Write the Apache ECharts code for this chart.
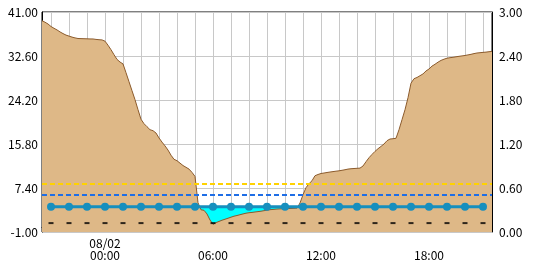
<!DOCTYPE html>
<html><head><meta charset="utf-8">
<script src="https://cdn.jsdelivr.net/npm/echarts@6/dist/echarts.min.js"></script>
<style>html,body{margin:0;padding:0;background:#fff}#c{width:550px;height:265px}</style>
</head><body><div id="c"></div>
<script>
// 10-minute categories from 08/01 20:30 to 08/02 21:30
const categories = [];
for (let m = 20 * 60 + 30; m <= 24 * 60 + 21 * 60 + 30; m += 10) {
  const day = m >= 24 * 60 ? '08/02' : '08/01';
  const mm = m % (24 * 60);
  const h = String(Math.floor(mm / 60)).padStart(2, '0');
  const mi = String(mm % 60).padStart(2, '0');
  categories.push(day + ' ' + h + ':' + mi);
}

// water level (left axis)
const levelValues = [
  39.34, 39.05, 38.71, 38.23, 37.89, 37.58, 37.20, 36.88, 36.59, 36.40,
  36.21, 36.06, 35.94, 35.92, 35.90, 35.88, 35.86, 35.85, 35.77, 35.71,
  35.67, 35.43, 34.66, 33.80, 32.85, 31.95, 31.45, 31.09, 29.41, 27.69,
  25.97, 24.26, 22.35, 20.52, 19.68, 19.10, 18.53, 18.34, 17.90, 16.95,
  16.16, 15.44, 14.64, 13.66, 12.88, 12.61, 12.15, 11.69, 11.35, 11.01,
  10.38, 9.61, 4.59, 3.24, 3.14, 2.44, 1.29, 0.47, 0.79, 1.02,
  1.25, 1.44, 1.63, 1.83, 2.02, 2.15, 2.30, 2.45, 2.59, 2.68,
  2.74, 2.82, 2.89, 2.97, 3.07, 3.16, 3.26, 3.31, 3.37, 3.41,
  3.43, 3.45, 3.47, 3.50, 3.52, 3.56, 4.54, 6.12, 7.46, 8.22,
  8.79, 9.75, 9.98, 10.17, 10.26, 10.36, 10.45, 10.53, 10.61, 10.68,
  10.78, 10.89, 11.01, 11.08, 11.12, 11.16, 11.20, 11.60, 12.42, 13.18,
  13.81, 14.39, 14.90, 15.34, 15.80, 16.43, 16.75, 16.81, 16.89, 18.53,
  20.44, 22.35, 24.64, 27.41, 28.27, 28.50, 28.84, 29.18, 29.74, 30.12,
  30.67, 31.02, 31.42, 31.76, 31.99, 32.18, 32.28, 32.35, 32.45, 32.54,
  32.62, 32.70, 32.81, 32.92, 33.06, 33.17, 33.23, 33.29, 33.34, 33.42,
  33.48
];

// hourly reference values (left axis)
const hourlyCats = categories.filter(c => c.endsWith(':00'));
const dotValues = [3.8,3.8,3.8,3.8,3.8,3.8,3.8,3.8,3.8,3.8,3.8,3.8,3.8,3.8,3.8,3.8,3.8,3.8,3.8,3.8,3.8,3.8,3.8,3.8,3.8];
const dashValues = [0.7,0.7,0.7,0.7,0.7,0.7,0.7,0.7,0.7,0.7,0.7,0.7,0.7,0.7,0.7,0.7,0.7,0.7,0.7,0.7,0.7,0.7,0.7,0.7,0.7];
const cyanLevel = categories.map(() => dotValues[0]);
const yellowLevel = 8.2;
const blueLevel = 6.2;

const leftTicks = { min: -1, max: 41, interval: 8.4 };
const rightTicks = { min: 0, max: 3, interval: 0.6 };
const labelHours = ['00:00', '06:00', '12:00', '18:00'];

const font = '"Noto Sans CJK JP", sans-serif';
const chart = echarts.init(document.getElementById('c'), null, { renderer: 'canvas' });
chart.setOption({
  animation: false,
  grid: { left: 42, right: 58, top: 12, bottom: 33, show: true, borderColor: '#000', borderWidth: 1, backgroundColor: 'transparent' },
  xAxis: {
    type: 'category', data: categories, boundaryGap: false,
    axisLine: { lineStyle: { color: '#000', width: 1 } },
    axisTick: { show: false },
    splitLine: { show: true, interval: (i, v) => v.endsWith(':00'), lineStyle: { color: '#c8c8c8', width: 1 } },
    axisLabel: {
      interval: (i, v) => labelHours.includes(v.slice(6)),
      formatter: v => (v.slice(6) === '00:00' ? v.slice(0, 5) + '\n' : '\n') + v.slice(6),
      color: '#000', fontFamily: font, fontSize: 12, lineHeight: 12, margin: 5
    }
  },
  yAxis: [
    {
      type: 'value', min: leftTicks.min, max: leftTicks.max, interval: leftTicks.interval,
      axisLine: { show: true, lineStyle: { color: '#000' } }, axisTick: { show: false },
      splitLine: { show: true, lineStyle: { color: '#c8c8c8', width: 1 } },
      axisLabel: { formatter: v => v.toFixed(2), color: '#000', fontFamily: font, fontSize: 12, margin: 4 }
    },
    {
      type: 'value', min: rightTicks.min, max: rightTicks.max, interval: rightTicks.interval,
      position: 'right',
      axisLine: { show: true, lineStyle: { color: '#000' } }, axisTick: { show: false },
      splitLine: { show: false },
      axisLabel: { formatter: v => v.toFixed(2), color: '#000', fontFamily: font, fontSize: 12, margin: 7 }
    }
  ],
  series: [
    {
      type: 'line', data: cyanLevel, symbol: 'none', silent: true,
      lineStyle: { width: 0, opacity: 0 },
      areaStyle: { color: '#00ffff', opacity: 1, origin: 'start' }, z: 1
    },
    {
      type: 'line', data: levelValues, symbol: 'none',
      lineStyle: { color: '#8b5a2b', width: 1 },
      areaStyle: { color: '#deb887', opacity: 1, origin: 'start' }, z: 2,
      markLine: {
        silent: true, symbol: 'none', label: { show: false },
        data: [
          { yAxis: yellowLevel, lineStyle: { color: '#ffd200', width: 2, type: [5, 3] } },
          { yAxis: blueLevel, lineStyle: { color: '#1e6ee6', width: 2, type: [5, 3] } }
        ]
      }
    },
    {
      type: 'scatter', data: hourlyCats.map((c, i) => [c, dashValues[i]]),
      symbol: 'rect', symbolSize: [5, 2], itemStyle: { color: '#000' }, z: 3
    },
    {
      type: 'line', data: hourlyCats.map((c, i) => [c, dotValues[i]]),
      symbol: 'circle', symbolSize: 8, showAllSymbol: true,
      lineStyle: { color: '#178fbe', width: 3 }, itemStyle: { color: '#178fbe' }, z: 4
    }
  ]
});
</script></body></html>
